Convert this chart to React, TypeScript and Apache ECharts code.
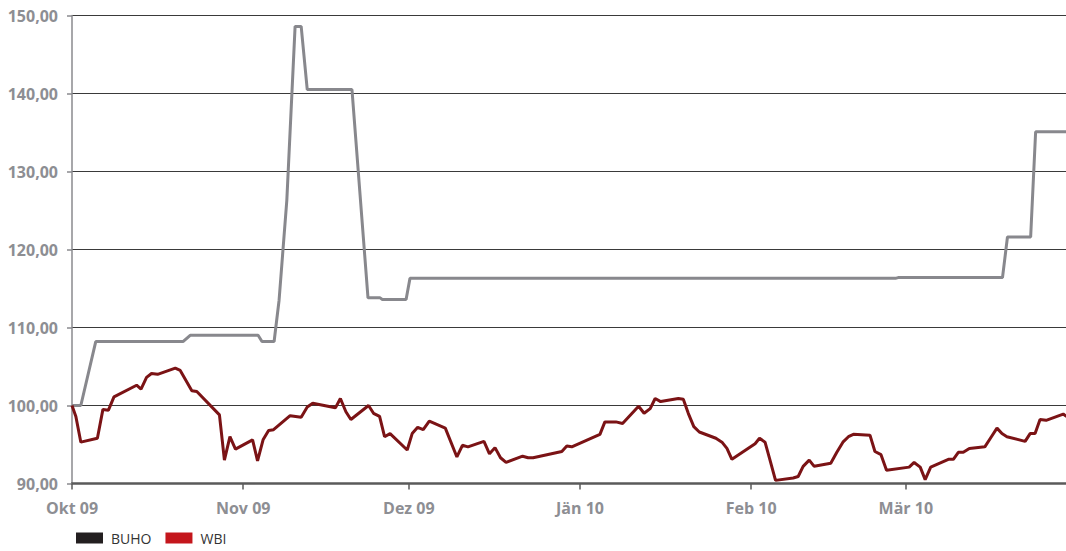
import React, { useEffect, useRef } from "react";
import * as echarts from "echarts";

// x values are days counted from 1 Oct 2009
const monthTickDays = [0, 31, 61, 92, 123, 151];
const monthTickLabels = ["Okt 09", "Nov 09", "Dez 09", "Jän 10", "Feb 10", "Mär 10"];
const yTickValues = [90, 100, 110, 120, 130, 140, 150];

const buhoDays = [0, 1.6, 4.3, 20.1, 21.4, 33.7, 34.4, 36.6, 37.5, 38.9, 40.4, 41.5, 42.6, 50.7, 53.6, 55.8, 56.2, 60.5, 61.2, 149.1, 149.6, 168.5, 169.4, 173.6, 174.5, 180];
const buhoValues = [100, 100, 108.2, 108.2, 109.0, 109.0, 108.2, 108.2, 113.5, 126.3, 148.6, 148.6, 140.5, 140.5, 113.8, 113.8, 113.6, 113.6, 116.3, 116.3, 116.4, 116.4, 121.6, 121.6, 135.1, 135.1];

const wbiDays = [0, 0.7, 1.6, 4.6, 5.6, 6.6, 7.6, 11.7, 12.5, 13.5, 14.4, 15.5, 18.7, 19.6, 21.7, 22.6, 26.7, 27.6, 28.6, 29.6, 32.7, 33.6, 34.6, 35.6, 36.5, 39.5, 41.5, 42.6, 43.6, 47.7, 48.6, 49.6, 50.5, 53.7, 54.6, 55.7, 56.6, 57.6, 60.7, 61.6, 62.6, 63.6, 64.7, 67.6, 69.7, 70.7, 71.7, 74.6, 75.6, 76.6, 77.6, 78.6, 81.6, 82.6, 83.5, 88.7, 89.6, 90.5, 95.6, 96.5, 98.5, 99.7, 102.6, 103.6, 104.7, 105.6, 106.6, 109.8, 110.7, 111.6, 112.6, 113.6, 116.6, 117.7, 118.6, 119.5, 123.7, 124.5, 125.5, 126.4, 127.4, 130.6, 131.5, 132.4, 133.5, 134.4, 137.4, 138.5, 139.6, 140.6, 141.5, 144.5, 145.4, 146.5, 147.5, 151.6, 152.5, 153.6, 154.5, 155.5, 158.7, 159.6, 160.5, 161.4, 162.5, 165.3, 166.4, 167.5, 168.4, 169.3, 172.6, 173.5, 174.4, 175.3, 176.4, 179.5, 180.1];
const wbiValues = [100.0, 98.6, 95.3, 95.8, 99.5, 99.4, 101.1, 102.6, 102.1, 103.6, 104.1, 104.0, 104.8, 104.5, 101.9, 101.8, 98.8, 93.0, 96.0, 94.4, 95.6, 92.9, 95.6, 96.8, 96.9, 98.7, 98.5, 99.8, 100.3, 99.7, 100.9, 99.2, 98.2, 100.0, 99.0, 98.6, 96.0, 96.4, 94.3, 96.4, 97.2, 96.9, 98.0, 97.1, 93.4, 94.9, 94.7, 95.4, 93.8, 94.6, 93.3, 92.7, 93.5, 93.3, 93.3, 94.1, 94.8, 94.7, 96.3, 97.9, 97.9, 97.7, 99.9, 99.0, 99.6, 100.9, 100.5, 100.9, 100.8, 99.0, 97.3, 96.6, 95.8, 95.3, 94.5, 93.1, 95.1, 95.8, 95.3, 93.0, 90.4, 90.7, 90.9, 92.2, 93.0, 92.2, 92.6, 94.0, 95.3, 96.0, 96.3, 96.2, 94.1, 93.7, 91.7, 92.1, 92.7, 92.1, 90.5, 92.1, 93.1, 93.1, 94.0, 94.0, 94.5, 94.7, 95.9, 97.1, 96.4, 96.0, 95.4, 96.4, 96.4, 98.2, 98.1, 98.9, 98.6];

const seriesNames = ["BUHO", "WBI"];

export default function App() {
  const ref = useRef<HTMLDivElement>(null);
  useEffect(() => {
    if (!ref.current) return;
    const chart = echarts.init(ref.current, undefined, { renderer: "svg" });
    const labelFont = { fontFamily: "Open Sans", fontWeight: "bold" as const, fontSize: 16, color: "#8d8e93" };
    chart.setOption({
      animation: false,
      backgroundColor: "#ffffff",
      grid: { left: 72, right: 0, top: 15.5, bottom: 67.5, containLabel: false },
      legend: {
        left: 76,
        top: 530,
        padding: 0,
        icon: "rect",
        itemWidth: 27,
        itemHeight: 11,
        itemGap: 14,
        textStyle: { fontFamily: "Open Sans", fontSize: 14, lineHeight: 16, color: "#333333", padding: [0, 0, 0, 3] },
        data: seriesNames,
      },
      xAxis: {
        type: "value",
        min: 0,
        max: 180,
        axisLine: { show: true, lineStyle: { color: "#5a5a5a", width: 2.5 } },
        axisTick: { show: true, customValues: monthTickDays, length: 6, lineStyle: { color: "#5a5a5a", width: 1.5 } },
        axisLabel: {
          ...labelFont,
          customValues: monthTickDays,
          margin: 16,
          formatter: (v: number) => {
            const i = monthTickDays.indexOf(Math.round(v));
            return i >= 0 ? monthTickLabels[i] : "";
          },
        },
        splitLine: { show: false },
      },
      yAxis: {
        type: "value",
        min: yTickValues[0],
        max: yTickValues[yTickValues.length - 1],
        interval: 10,
        axisLine: { show: true, lineStyle: { color: "#8a8a8e", width: 1.5 } },
        axisTick: { show: true, length: 5, lineStyle: { color: "#8a8a8e", width: 1.5 } },
        axisLabel: {
          ...labelFont,
          margin: 14,
          formatter: (v: number) => v.toFixed(2).replace(".", ","),
        },
        splitLine: { show: true, lineStyle: { color: "#3a3a3a", width: 1 } },
      },
      series: [
        {
          name: seriesNames[0],
          type: "line",
          data: buhoDays.map((d, i) => [d, buhoValues[i]]),
          showSymbol: false,
          symbol: "none",
          itemStyle: { color: "#231f20" },
          lineStyle: { color: "#88888d", width: 3 },
          z: 3,
        },
        {
          name: seriesNames[1],
          type: "line",
          data: wbiDays.map((d, i) => [d, wbiValues[i]]),
          showSymbol: false,
          symbol: "none",
          itemStyle: { color: "#c4161c" },
          lineStyle: { color: "#7b1315", width: 3 },
          z: 4,
        },
      ],
    });
    return () => chart.dispose();
  }, []);
  return (
    <div
      ref={ref}
      style={{ position: "absolute", left: 0, top: 0, width: 1066, height: 551 }}
    />
  );
}
